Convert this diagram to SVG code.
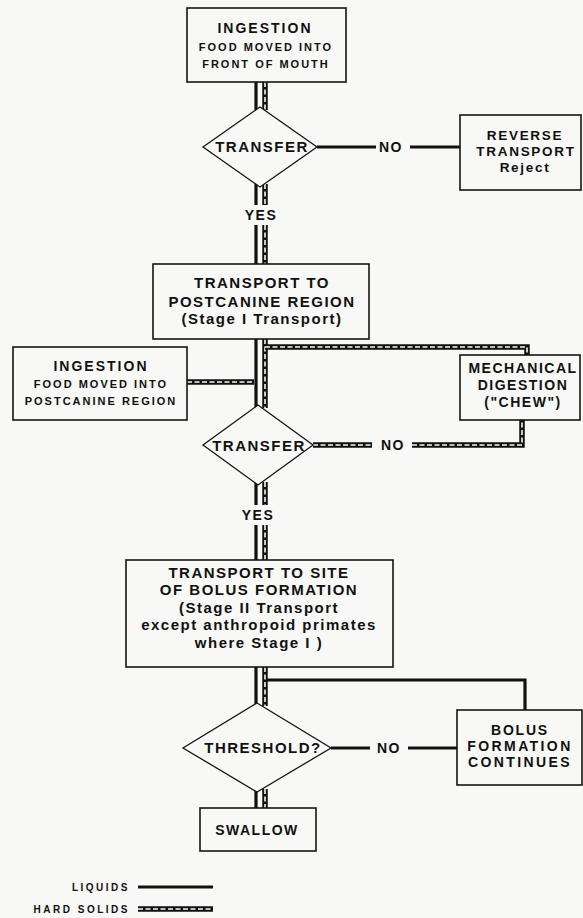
<svg xmlns="http://www.w3.org/2000/svg" width="583" height="918" viewBox="0 0 583 918">
<style>
.bg{fill:#f8f8f6}
.box{fill:#f8f8f6;stroke:#151515;stroke-width:1.6}
.dia{fill:#f8f8f6;stroke:#151515;stroke-width:1.3}
.liq{fill:none;stroke:#111;stroke-width:3.2}
.hard{fill:none;stroke:#111;stroke-width:5.5}
.hin{fill:none;stroke:#f8f8f6;stroke-width:1.6;stroke-dasharray:5 2.5}
.t{font-family:"Liberation Sans",Arial,Helvetica,sans-serif;font-weight:bold;text-anchor:middle;fill:#111}
.b15{font-size:15px;letter-spacing:1.5px}
.b14{font-size:14px;letter-spacing:1.5px}
.b13{font-size:13.5px;letter-spacing:1.7px}
.s11{font-size:11px;letter-spacing:2px}
.leg{font-family:"Liberation Sans",Arial,Helvetica,sans-serif;font-weight:bold;font-size:10px;letter-spacing:2.5px;text-anchor:end;fill:#111}
</style>
<rect class="bg" x="0" y="0" width="583" height="918"/>

<g id="connectors">
  <path class="liq" d="M256,82 V110 M256,184 V205 M256,225 V264 M256,339 V408 M256,482 V505 M256,525 V560 M256,667 V706 M256,789 V808"/>
  <path class="liq" d="M317,147 H376 M410,147 H460"/>
  <path class="liq" d="M265,680 H525 V710"/>
  <path class="liq" d="M331,748 H370 M408,748 H457"/>
  <path class="hard" d="M265,82 V110 M265,184 V205 M265,225 V264 M265,339 V408 M265,482 V505 M265,525 V560 M265,667 V706 M265,789 V808"/>
  <path class="hin" d="M265,82 V110 M265,184 V205 M265,225 V264 M265,339 V408 M265,482 V505 M265,525 V560 M265,667 V706 M265,789 V808"/>
  <path class="hard" d="M265,347 H527 V355"/>
  <path class="hin" d="M265,347 H527 V355"/>
  <path class="hard" d="M187,382 H254"/>
  <path class="hin" d="M187,382 H254"/>
  <path class="hard" d="M313,445 H372 M412,445 H522 V420"/>
  <path class="hin" d="M313,445 H372 M412,445 H522 V420"/>
  <text class="t b14" x="391" y="152">NO</text>
  <text class="t b14" x="261" y="220">YES</text>
  <text class="t b14" x="393" y="450">NO</text>
  <text class="t b14" x="258" y="520">YES</text>
  <text class="t b14" x="389" y="753">NO</text>
</g>

<g id="ingestion1">
  <rect class="box" x="187" y="8" width="159" height="74"/>
  <text class="t" x="265" y="33" style="font-size:14px;letter-spacing:2px">INGESTION</text>
  <text class="t s11" x="266" y="51">FOOD MOVED INTO</text>
  <text class="t s11" x="266" y="68">FRONT OF MOUTH</text>
</g>

<g id="transfer1">
  <polygon class="dia" points="260,107 317,147 260,187 203,147"/>
  <text class="t b15" x="262" y="152">TRANSFER</text>
</g>

<g id="reverse">
  <rect class="box" x="460" y="115" width="121" height="75"/>
  <text class="t b13" x="525" y="140">REVERSE</text>
  <text class="t b13" x="526" y="156">TRANSPORT</text>
  <text class="t b13" x="525" y="172">Reject</text>
</g>

<g id="transport1">
  <rect class="box" x="153" y="264" width="216" height="75"/>
  <text class="t b15" x="262" y="288">TRANSPORT TO</text>
  <text class="t b15" x="262" y="307">POSTCANINE REGION</text>
  <text class="t b15" x="262" y="324">(Stage I Transport)</text>
</g>

<g id="ingestion2">
  <rect class="box" x="13" y="347" width="174" height="73"/>
  <text class="t" x="101" y="371" style="font-size:14px;letter-spacing:2px">INGESTION</text>
  <text class="t s11" x="101" y="388">FOOD MOVED INTO</text>
  <text class="t s11" x="101" y="405">POSTCANINE REGION</text>
</g>

<g id="mechanical">
  <rect class="box" x="460" y="355" width="120" height="65"/>
  <text class="t b14" x="523" y="373">MECHANICAL</text>
  <text class="t b14" x="523" y="390">DIGESTION</text>
  <text class="t b14" x="523" y="407">("CHEW")</text>
</g>

<g id="transfer2">
  <polygon class="dia" points="258,405 313,445 258,485 203,445"/>
  <text class="t b15" x="259" y="451">TRANSFER</text>
</g>

<g id="transport2">
  <rect class="box" x="126" y="560" width="267" height="107"/>
  <text class="t b15" x="259" y="578">TRANSPORT TO SITE</text>
  <text class="t b15" x="259" y="595">OF BOLUS FORMATION</text>
  <text class="t b15" x="259" y="613">(Stage II Transport</text>
  <text class="t b15" x="259" y="630">except anthropoid primates</text>
  <text class="t b15" x="259" y="648">where Stage I )</text>
</g>

<g id="threshold">
  <polygon class="dia" points="257,703 331,748 257,792 183,748"/>
  <text class="t b15" x="263" y="753">THRESHOLD?</text>
</g>

<g id="bolus">
  <rect class="box" x="457" y="710" width="125" height="75"/>
  <text class="t" x="520" y="735" style="font-size:14px;letter-spacing:1.8px">BOLUS</text>
  <text class="t" x="520" y="751" style="font-size:14px;letter-spacing:2.4px">FORMATION</text>
  <text class="t" x="520" y="767" style="font-size:14px;letter-spacing:2.4px">CONTINUES</text>
</g>

<g id="swallow">
  <rect class="box" x="200" y="808" width="116" height="43"/>
  <text class="t b14" x="257" y="835">SWALLOW</text>
</g>

<g id="legend">
  <text class="leg" x="130" y="891">LIQUIDS</text>
  <line class="liq" x1="138" y1="887" x2="213" y2="887"/>
  <text class="leg" x="130" y="913">HARD SOLIDS</text>
  <line class="hard" x1="138" y1="909" x2="213" y2="909"/>
  <line class="hin" x1="138" y1="909" x2="213" y2="909"/>
</g>
</svg>
